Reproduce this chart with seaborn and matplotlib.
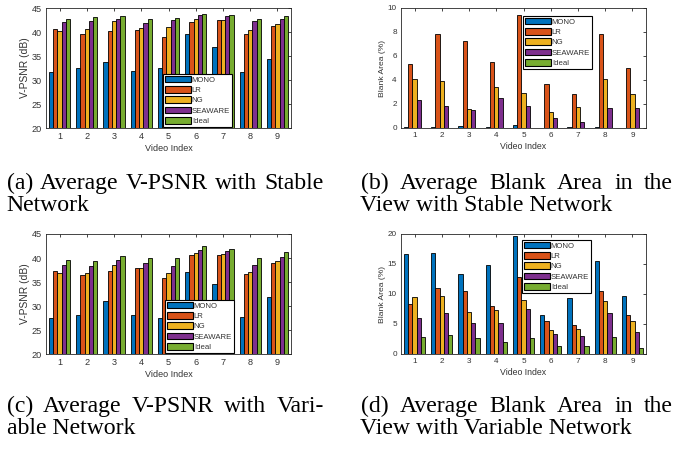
import numpy as np
import pandas as pd
import matplotlib
matplotlib.use("Agg")
import matplotlib.pyplot as plt
import seaborn as sns
from matplotlib.patches import Patch

# ---------------- data ----------------
videos = ["1", "2", "3", "4", "5", "6", "7", "8", "9"]
methods = ["MONO", "LR", "NG", "SEAWARE", "Ideal"]
colors = ["#0072BD", "#D95319", "#EDB120", "#7E2F8E", "#77AC30"]

psnr_stable_mono = [31.7, 32.4, 33.8, 31.9, 32.4, 39.55, 36.9, 31.7, 34.3]
psnr_stable_lr = [40.7, 39.55, 40.25, 40.5, 39.0, 42.1, 42.5, 39.5, 41.2]
psnr_stable_ng = [40.25, 40.7, 42.3, 40.9, 40.95, 42.8, 42.5, 40.5, 41.7]
psnr_stable_seaware = [42.0, 42.2, 42.8, 41.9, 42.5, 43.5, 43.4, 42.35, 42.8]
psnr_stable_ideal = [42.8, 43.1, 43.3, 42.8, 43.0, 43.7, 43.6, 42.8, 43.4]

blank_stable_mono = [0.05, 0.05, 0.15, 0.05, 0.25, 0.02, 0.05, 0.1, 0.02]
blank_stable_lr = [5.35, 7.85, 7.27, 5.49, 9.44, 3.65, 2.81, 7.83, 5.01]
blank_stable_ng = [4.1, 3.9, 1.56, 3.4, 2.95, 1.36, 1.78, 4.1, 2.87]
blank_stable_seaware = [2.37, 1.8, 1.5, 2.53, 1.8, 0.84, 0.5, 1.64, 1.67]
blank_stable_ideal = [0, 0, 0, 0, 0, 0, 0, 0, 0]

psnr_var_mono = [27.4, 28.05, 31.0, 28.05, 27.4, 37.0, 34.6, 27.8, 31.9]
psnr_var_lr = [37.35, 36.5, 37.2, 37.9, 35.8, 40.55, 40.6, 36.7, 39.0]
psnr_var_ng = [36.8, 36.9, 38.5, 37.9, 36.9, 41.1, 40.9, 37.0, 39.3]
psnr_var_seaware = [38.5, 38.3, 39.5, 39.0, 38.3, 41.7, 41.45, 38.6, 40.3]
psnr_var_ideal = [39.5, 39.4, 40.4, 40.1, 39.9, 42.4, 41.9, 39.9, 41.25]

blank_var_mono = [16.67, 16.83, 13.28, 14.78, 19.6, 6.44, 9.33, 15.56, 9.67]
blank_var_lr = [8.33, 11.0, 10.44, 7.94, 12.8, 5.44, 4.83, 10.56, 6.56]
blank_var_ng = [9.5, 9.6, 7.0, 7.28, 8.94, 4.0, 4.1, 8.9, 5.56]
blank_var_seaware = [6.06, 6.78, 5.22, 5.1, 7.5, 3.33, 3.0, 6.78, 3.72]
blank_var_ideal = [2.78, 3.1, 2.6, 2.0, 2.72, 1.28, 1.39, 2.78, 1.06]

psnr_ticks = [20, 25, 30, 35, 40, 45]
blank_stable_ticks = [0, 2, 4, 6, 8, 10]
blank_var_ticks = [0, 5, 10, 15, 20]

captions = [
    ("(a) Average V-PSNR with Stable", "Network"),
    ("(b) Average Blank Area in the", "View with Stable Network"),
    ("(c) Average V-PSNR with Vari-", "able Network"),
    ("(d) Average Blank Area in the", "View with Variable Network"),
]


def long_df(series):
    rows = []
    for m, vals in zip(methods, series):
        for v, val in zip(videos, vals):
            rows.append({"video": v, "method": m, "value": val})
    return pd.DataFrame(rows)


sns.set_style("white")
plt.rcParams["font.family"] = ["Liberation Sans", "DejaVu Sans"]

W, H = 676, 449
fig = plt.figure(figsize=(W / 100, H / 100), dpi=100)

TXT = "#333333"
panels = [
    dict(series=[psnr_stable_mono, psnr_stable_lr, psnr_stable_ng, psnr_stable_seaware, psnr_stable_ideal],
         box=(46, 8, 291, 128), ylim=(20, 45), ticks=psnr_ticks, ylabel="V-PSNR (dB)",
         leg=(163, 127), tfs=6.6, yfs=7.4, xfs=6.5),
    dict(series=[blank_stable_mono, blank_stable_lr, blank_stable_ng, blank_stable_seaware, blank_stable_ideal],
         box=(401, 8, 646, 128), ylim=(0, 10), ticks=blank_stable_ticks, ylabel="Blank Area (%)",
         leg=(523, 69), tfs=5.9, yfs=6.1, xfs=6.3),
    dict(series=[psnr_var_mono, psnr_var_lr, psnr_var_ng, psnr_var_seaware, psnr_var_ideal],
         box=(46, 234, 291, 354), ylim=(20, 45), ticks=psnr_ticks, ylabel="V-PSNR (dB)",
         leg=(165, 353), tfs=6.6, yfs=7.4, xfs=6.5),
    dict(series=[blank_var_mono, blank_var_lr, blank_var_ng, blank_var_seaware, blank_var_ideal],
         box=(401, 234, 646, 354), ylim=(0, 20), ticks=blank_var_ticks, ylabel="Blank Area (%)",
         leg=(522, 293), tfs=5.9, yfs=6.1, xfs=6.3),
]

for p in panels:
    x0, y0, x1, y1 = p["box"]
    ax = fig.add_axes([x0 / W, 1 - y1 / H, (x1 - x0) / W, (y1 - y0) / H])
    df = long_df(p["series"])
    sns.barplot(data=df, x="video", y="value", hue="method", hue_order=methods,
                palette=colors, order=videos, width=0.78, gap=0.0,
                edgecolor="black", linewidth=0.6, saturation=1, legend=False,
                errorbar=None, ax=ax)
    ax.set_xlim(-0.5, 8.5)
    ax.set_ylim(*p["ylim"])
    ax.set_yticks(p["ticks"])
    ax.set_xlabel("Video Index", fontsize=p["xfs"], color=TXT, labelpad=2)
    ax.set_ylabel(p["ylabel"], fontsize=p["yfs"], color=TXT, labelpad=1)
    ax.tick_params(direction="in", length=2.2, width=0.6, top=True, right=True,
                   labelsize=p["tfs"], labelcolor=TXT, color="#262626", pad=3)
    for s in ax.spines.values():
        s.set_visible(True)
        s.set_color("#262626")
        s.set_linewidth(0.6)
    handles = [Patch(facecolor=c, edgecolor="black", linewidth=0.8) for c in colors]
    lx, ly = p["leg"]
    bx = (lx - x0) / (x1 - x0)
    by = (y1 - ly) / (y1 - y0)
    leg = ax.legend(handles, methods, loc="lower left", bbox_to_anchor=(bx, by),
                    fontsize=5.6, handlelength=3.3, handleheight=0.95, handletextpad=0.15,
                    labelspacing=0.3, borderpad=0.25, borderaxespad=0, frameon=True,
                    fancybox=False, framealpha=1)
    leg.get_frame().set_edgecolor("black")
    leg.get_frame().set_linewidth(0.8)
    for t in leg.get_texts():
        t.set_color(TXT)

# ---------------- captions (justified first lines) ----------------
renderer = fig.canvas.get_renderer()
CAP_FS = 17.1
cap_font = dict(family=["Liberation Serif", "DejaVu Serif"], fontsize=CAP_FS, color="black")


def justified_line(text, xl, xr, ybase):
    words = text.split()
    arts = [fig.text(0, 1 - ybase / H, w, va="baseline", ha="left", **cap_font) for w in words]
    widths = [a.get_window_extent(renderer=renderer).width for a in arts]
    gap = (xr - xl - sum(widths)) / (len(words) - 1)
    x = xl
    for a, w in zip(arts, widths):
        a.set_x(x / W)
        x += w + gap


cap_pos = [(6.7, 324, 189, 211), (360.5, 673, 189, 211),
           (6.7, 324, 412, 434.5), (360.5, 673, 412, 434.5)]
for (l1, l2), (xl, xr, b1, b2) in zip(captions, cap_pos):
    justified_line(l1, xl, xr, b1)
    fig.text(xl / W, 1 - b2 / H, l2, va="baseline", ha="left", **cap_font)

fig.savefig("out.png", dpi=100)
